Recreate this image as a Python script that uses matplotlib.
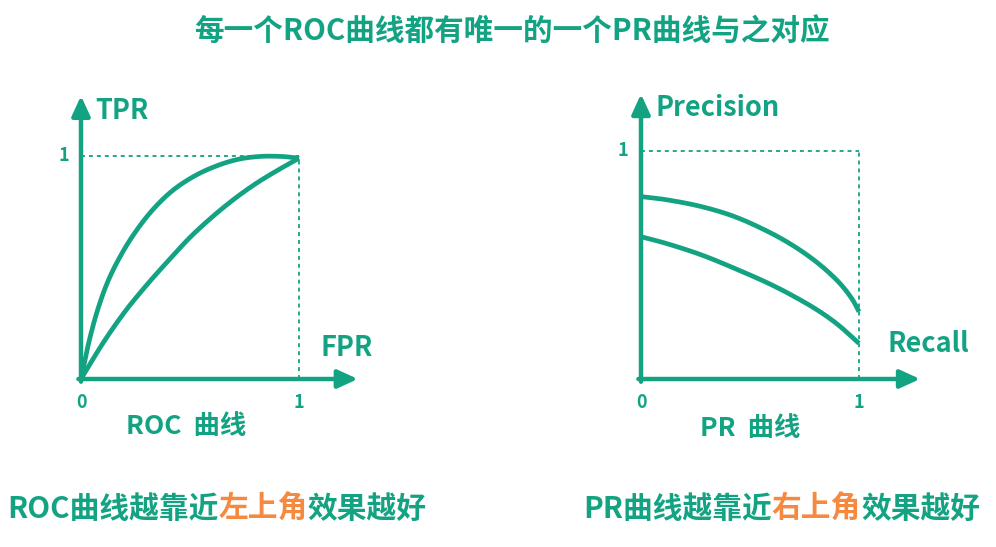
"""ROC vs PR curve sketch: every ROC curve has a unique PR curve."""

import matplotlib.pyplot as plt
import numpy as np

TEAL = "#13a383"
ORANGE = "#f5893f"
FONT = ["Noto Sans CJK SC", "DejaVu Sans"]

# ROC curves (FPR, TPR)
roc_fpr_good = [0.0, 0.03, 0.07, 0.12, 0.18, 0.25, 0.33, 0.42, 0.52, 0.62, 0.72, 0.82, 0.92, 1.0]
roc_tpr_good = [0.0, 0.14, 0.29, 0.43, 0.55, 0.66, 0.76, 0.845, 0.91, 0.955, 0.985, 0.998, 0.998, 0.99]
roc_fpr_weak = [0.0, 0.1, 0.2, 0.3, 0.4, 0.5, 0.6, 0.7, 0.8, 0.9, 1.0]
roc_tpr_weak = [0.0, 0.16, 0.30, 0.42, 0.53, 0.635, 0.725, 0.805, 0.875, 0.935, 0.99]

# PR curves (Recall, Precision)
pr_recall = [0.0, 0.125, 0.278, 0.43, 0.584, 0.706, 0.813, 0.905, 0.966, 1.0]
pr_precision_good = [0.80, 0.785, 0.756, 0.712, 0.646, 0.58, 0.507, 0.427, 0.354, 0.295]
pr_recall_weak = [0.0, 0.125, 0.278, 0.43, 0.584, 0.706, 0.813, 0.905, 1.0]
pr_precision_weak = [0.624, 0.592, 0.544, 0.485, 0.42, 0.36, 0.30, 0.237, 0.156]

title = "每一个ROC曲线都有唯一的一个PR曲线与之对应"
roc_caption = [("ROC曲线越靠近", TEAL), ("左上角", ORANGE), ("效果越好", TEAL)]
pr_caption = [("PR曲线越靠近", TEAL), ("右上角", ORANGE), ("效果越好", TEAL)]

W, H = 996, 547


def smooth(x, y, steps=20):
    """Catmull-Rom path through the read points so the hand-drawn curve has no corners."""
    x = np.asarray(x, float)
    y = np.asarray(y, float)
    px = np.concatenate([[2 * x[0] - x[1]], x, [2 * x[-1] - x[-2]]])
    py = np.concatenate([[2 * y[0] - y[1]], y, [2 * y[-1] - y[-2]]])
    xs, ys = [], []
    for i in range(1, len(px) - 2):
        s = np.linspace(0, 1, steps, endpoint=(i == len(px) - 3))
        for arr, out in ((px, xs), (py, ys)):
            p0, p1, p2, p3 = arr[i - 1], arr[i], arr[i + 1], arr[i + 2]
            out.extend(0.5 * (2 * p1 + (-p0 + p2) * s + (2 * p0 - 5 * p1 + 4 * p2 - p3) * s**2
                              + (-p0 + 3 * p1 - 3 * p2 + p3) * s**3))
    return np.array(xs), np.array(ys)


def make_axes(fig, origin, unit):
    """Axes whose data (0,0)-(1,1) sits at the given pixel box."""
    ox, oy = origin
    ux, uy = unit
    ax = fig.add_axes([ox / W, (H - oy) / H, ux / W, uy / H])
    ax.set_xlim(0, 1)
    ax.set_ylim(0, 1)
    ax.axis("off")
    return ax


def draw_frame(ax, xlabel, ylabel, x_end, y_end, xlabel_pos, ylabel_pos, one_pos):
    arrow = dict(arrowstyle="-|>,head_length=1.2,head_width=0.55", color=TEAL, lw=3.2,
                 shrinkA=0, shrinkB=0)
    ax.annotate("", xy=(x_end, 0), xytext=(-0.012, 0), arrowprops=arrow, annotation_clip=False)
    ax.annotate("", xy=(0, y_end), xytext=(0, -0.012), arrowprops=arrow, annotation_clip=False)
    ax.plot([0, 1], [1, 1], color=TEAL, lw=1.3, ls=(0, (2.2, 2.2)), clip_on=False)
    ax.plot([1, 1], [0, 1], color=TEAL, lw=1.3, ls=(0, (2.2, 2.2)), clip_on=False)
    label_kw = dict(color=TEAL, fontsize=19.5, fontweight="bold", family=FONT)
    ax.text(*xlabel_pos, xlabel, ha="left", va="center", **label_kw)
    ax.text(*ylabel_pos, ylabel, ha="left", va="center", **label_kw)
    tick_kw = dict(color=TEAL, fontsize=13, fontweight="bold", family=FONT, ha="center", va="center")
    ax.text(0, -0.105, "0", **tick_kw)
    ax.text(1, -0.105, "1", **tick_kw)
    ax.text(*one_pos, "1", **tick_kw)


def mixed_text(fig, ax, x, y, pieces, size):
    """Lay coloured pieces of one caption side by side."""
    prev = None
    for text, color in pieces:
        kw = dict(color=color, fontsize=size, fontweight="bold", family=FONT, va="bottom", ha="left")
        if prev is None:
            prev = fig.text(x, y, text, **kw)
        else:
            prev = ax.annotate(text, xy=(1, 0), xycoords=prev, annotation_clip=False, **kw)


def main():
    fig = plt.figure(figsize=(W / 100, H / 100), dpi=100)

    roc = make_axes(fig, (81, 379), (218, 223))
    draw_frame(roc, "FPR", "TPR", 1.27, 1.27, (1.1, 0.14), (0.065, 1.20), (-0.08, 1.0))
    for fx, ty in ((roc_fpr_good, roc_tpr_good), (roc_fpr_weak, roc_tpr_weak)):
        xs, ys = smooth(fx, ty)
        roc.plot(xs, ys, color=TEAL, lw=3.4, solid_capstyle="butt", clip_on=False)
    roc.text(0.48, -0.215, "ROC  曲线", color=TEAL, fontsize=19, fontweight="bold",
             family=FONT, ha="center", va="center")

    pr = make_axes(fig, (641, 379), (218, 228))
    draw_frame(pr, "Recall", "Precision", 1.28, 1.25, (1.13, 0.155), (0.065, 1.19), (-0.085, 1.0))
    for rx, py in ((pr_recall, pr_precision_good), (pr_recall_weak, pr_precision_weak)):
        xs, ys = smooth(rx, py)
        pr.plot(xs, ys, color=TEAL, lw=3.4, solid_capstyle="butt", clip_on=False)
    pr.text(0.50, -0.215, "PR  曲线", color=TEAL, fontsize=19, fontweight="bold",
            family=FONT, ha="center", va="center")

    fig.text(512 / W, 1 - 31 / H, title, color=TEAL, fontsize=21.3, fontweight="bold",
             family=FONT, ha="center", va="center")
    mixed_text(fig, roc, 7 / W, 1 - 524 / H, roc_caption, 21.4)
    mixed_text(fig, roc, 583 / W, 1 - 524 / H, pr_caption, 21.4)

    fig.savefig("out.png", dpi=100)


if __name__ == "__main__":
    main()
